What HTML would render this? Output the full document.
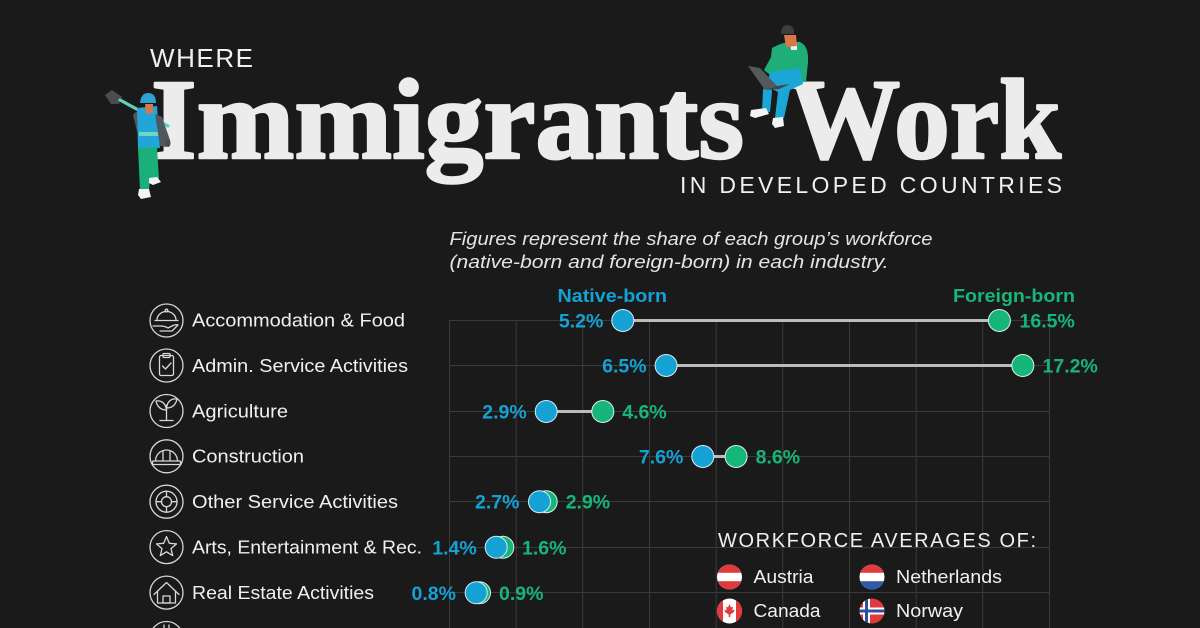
<!DOCTYPE html>
<html>
<head>
<meta charset="utf-8">
<style>
html,body{margin:0;padding:0;background:#1a1a1a;}
svg{display:block;}
text{font-family:"Liberation Sans",sans-serif;}
.serif{font-family:"Liberation Serif",serif;}
.cat{font-size:18px;fill:#f0f0f0;}
.nv{font-size:19.5px;font-weight:bold;fill:#14a2d4;}
.fv{font-size:19.5px;font-weight:bold;fill:#16b67b;}
.ic{fill:none;stroke:#d8d8d8;stroke-width:1.3;stroke-linecap:round;stroke-linejoin:round;}
.grid{stroke:#3a3a3a;stroke-width:1;}
</style>
</head>
<body>
<svg width="1200" height="628" viewBox="0 0 1200 628" xmlns="http://www.w3.org/2000/svg">
<defs>
  <clipPath id="cAu"><circle cx="729.5" cy="577" r="12.5"/></clipPath>
  <clipPath id="cNl"><circle cx="872" cy="577" r="12.5"/></clipPath>
  <clipPath id="cCa"><circle cx="729.5" cy="611" r="12.5"/></clipPath>
  <clipPath id="cNo"><circle cx="872" cy="611" r="12.5"/></clipPath>
</defs>
<rect width="1200" height="628" fill="#1a1a1a"/>

<!-- Header -->
<text x="150" y="67" font-size="26" fill="#f0f0f0" textLength="103" lengthAdjust="spacing">WHERE</text>
<text class="serif" x="151" y="158" font-size="114" font-weight="bold" fill="#ececec" stroke="#ececec" stroke-width="2.5" stroke-linejoin="round" textLength="593" lengthAdjust="spacingAndGlyphs">Immigrants</text>
<text class="serif" x="789" y="158" font-size="114" font-weight="bold" fill="#ececec" stroke="#ececec" stroke-width="2.5" stroke-linejoin="round" textLength="272" lengthAdjust="spacingAndGlyphs">Work</text>
<text x="680" y="193" font-size="23" fill="#f0f0f0" textLength="382" lengthAdjust="spacing">IN DEVELOPED COUNTRIES</text>

<!-- Left worker figure -->
<g>
  <polygon points="105,95 112,90 122,97 119,104 111,104" fill="#4a4d50"/>
  <line x1="120" y1="100" x2="168" y2="126" stroke="#5fd3b8" stroke-width="3.2" stroke-linecap="round"/>
  <path d="M133,115 Q137,110 142,112 L147,140 L140,143 Z" fill="#50585f"/>
  <path d="M137,108 L157,106 L160,148 L138,149 Z" fill="#22a5d8"/>
  <rect x="139" y="132" width="24" height="4" fill="#6fd6bf"/>
  <path d="M155,114 L162,117 L170,140 L166,147 L160,146 Z" fill="#50585f"/>
  <ellipse cx="168" cy="143" rx="2.5" ry="4" fill="#4a4d50"/>
  <path d="M145,104 L153,104 L153,113 L146,114 Z" fill="#d9774a"/>
  <path d="M140,103 Q141,93 148,93 Q156,93 156,103 Z" fill="#2ba3d3"/>
  <path d="M138,148 L157,147 L159,180 L150,180 L149,190 L140,190 Z" fill="#1bb07a"/>
  <path d="M139,189 L149,189 L151,197 L141,199 L138,195 Z" fill="#f4f4f4"/>
  <path d="M149,178 L157,177 L161,182 L153,185 L149,183 Z" fill="#f4f4f4"/>
</g>

<!-- Right figure sitting on W -->
<g>
  <path d="M772,48 Q785,40 800,42 Q809,46 808,62 L806,82 L774,82 L770,66 Z" fill="#1fae78"/>
  <path d="M775,50 L764,70 L770,75 L780,60 Z" fill="#1fae78"/>
  <path d="M790,43 L797,43 L797,50 L791,50 Z" fill="#f4f4f4"/>
  <path d="M784,35 L796,35 L797,46 L786,47 Z" fill="#d9774a"/>
  <path d="M781,34 Q781,25 788,25 Q795,26 794,34 Z" fill="#3d3d3d"/>
  <path d="M770,72 L800,68 L803,84 L790,90 L784,118 L775,118 L778,92 L770,88 Z" fill="#1ca6d6"/>
  <path d="M770,74 L763,90 L762,112 L770,112 L772,92 Z" fill="#1ca6d6"/>
  <polygon points="748,66 760,68 777,86 765,90" fill="#56595c"/>
  <polygon points="765,90 777,86 790,84 779,89" fill="#444"/>
  <path d="M751,110 L766,108 L769,114 L755,118 L750,116 Z" fill="#f4f4f4"/>
  <path d="M773,118 L783,117 L784,126 L775,128 L772,124 Z" fill="#f4f4f4"/>
</g>

<!-- Subtitle -->
<text x="449.5" y="245" font-size="18.5" font-style="italic" fill="#e4e4e4" textLength="483" lengthAdjust="spacingAndGlyphs">Figures represent the share of each group’s workforce</text>
<text x="449.5" y="268" font-size="18.5" font-style="italic" fill="#e4e4e4" textLength="439" lengthAdjust="spacingAndGlyphs">(native-born and foreign-born) in each industry.</text>

<!-- Series titles -->
<text x="557.5" y="302" font-size="18" font-weight="bold" fill="#14a2d4" textLength="109.5" lengthAdjust="spacingAndGlyphs">Native-born</text>
<text x="953" y="302" font-size="18" font-weight="bold" fill="#16b67b" textLength="122" lengthAdjust="spacingAndGlyphs">Foreign-born</text>

<!-- Grid -->
<g class="grid">
  <line x1="449.5" y1="320" x2="449.5" y2="628"/>
  <line x1="516.2" y1="320" x2="516.2" y2="628"/>
  <line x1="582.8" y1="320" x2="582.8" y2="628"/>
  <line x1="649.5" y1="320" x2="649.5" y2="628"/>
  <line x1="716.2" y1="320" x2="716.2" y2="628"/>
  <line x1="782.8" y1="320" x2="782.8" y2="628"/>
  <line x1="849.5" y1="320" x2="849.5" y2="628"/>
  <line x1="916.2" y1="320" x2="916.2" y2="628"/>
  <line x1="982.8" y1="320" x2="982.8" y2="628"/>
  <line x1="1049.5" y1="320" x2="1049.5" y2="628"/>
  <line x1="449.5" y1="320.5" x2="1049.5" y2="320.5"/>
  <line x1="449.5" y1="365.5" x2="1049.5" y2="365.5"/>
  <line x1="449.5" y1="411.5" x2="1049.5" y2="411.5"/>
  <line x1="449.5" y1="456.5" x2="1049.5" y2="456.5"/>
  <line x1="449.5" y1="501.5" x2="1049.5" y2="501.5"/>
  <line x1="449.5" y1="547.5" x2="1049.5" y2="547.5"/>
  <line x1="449.5" y1="592.5" x2="1049.5" y2="592.5"/>
</g>

<!-- Category icons -->
<g class="ic">
  <circle cx="166.5" cy="320.5" r="16.5"/>
  <circle cx="166.5" cy="365.5" r="16.5"/>
  <circle cx="166.5" cy="411" r="16.5"/>
  <circle cx="166.5" cy="456.3" r="16.5"/>
  <circle cx="166.5" cy="501.7" r="16.5"/>
  <circle cx="166.5" cy="547.1" r="16.5"/>
  <circle cx="166.5" cy="592.6" r="16.5"/>
  <circle cx="166.5" cy="638" r="16.5"/>
  <path d="M157,320 A9.5,8.5 0 0 1 176,320"/>
  <line x1="155" y1="320.5" x2="178" y2="320.5"/>
  <circle cx="166.5" cy="310.5" r="1.3"/>
  <path d="M153,326 L160,326 Q165,326 168,328 L172,326 Q176,324 178,325 L172,331 L160,331"/>
  <rect x="159.5" y="355.5" width="14" height="20" rx="1.5"/>
  <rect x="163" y="353.5" width="7" height="4" rx="1"/>
  <path d="M162.5,366 L165.5,369 L171,363"/>
  <line x1="166.5" y1="405" x2="166.5" y2="420"/>
  <line x1="160" y1="420.5" x2="173" y2="420.5"/>
  <path d="M166.5,410 Q158,410 156,401 Q165,400 166.5,410"/>
  <path d="M166.5,408 Q175,408 177,399 Q168,398 166.5,408"/>
  <path d="M155.5,461 A11,11 0 0 1 177.5,461"/>
  <rect x="152.5" y="461" width="28" height="3.5" rx="1"/>
  <line x1="163" y1="451" x2="163" y2="460"/>
  <line x1="170" y1="451" x2="170" y2="460"/>
  <circle cx="166.5" cy="501.7" r="10.5"/>
  <circle cx="166.5" cy="501.7" r="5"/>
  <line x1="166.5" y1="491.2" x2="166.5" y2="496.7"/>
  <line x1="166.5" y1="506.7" x2="166.5" y2="512.2"/>
  <line x1="156" y1="501.7" x2="161.5" y2="501.7"/>
  <line x1="171.5" y1="501.7" x2="177" y2="501.7"/>
  <polygon points="166.5,536.6 169.3,543.3 176.5,543.9 171,548.6 172.7,555.6 166.5,551.8 160.3,555.6 162,548.6 156.5,543.9 163.7,543.3"/>
  <polyline points="154,594.5 166.5,582.5 179,594.5"/>
  <polyline points="157.5,591.5 157.5,603 175.5,603 175.5,591.5"/>
  <rect x="163" y="596" width="7" height="7"/>
  <line x1="164" y1="625" x2="164" y2="628"/>
  <line x1="169" y1="625" x2="169" y2="628"/>
</g>

<!-- Category labels -->
<text class="cat" x="192" y="326.5" textLength="213" lengthAdjust="spacingAndGlyphs">Accommodation &amp; Food</text>
<text class="cat" x="192" y="371.8" textLength="216" lengthAdjust="spacingAndGlyphs">Admin. Service Activities</text>
<text class="cat" x="192" y="417.3" textLength="96" lengthAdjust="spacingAndGlyphs">Agriculture</text>
<text class="cat" x="192" y="462.7" textLength="112" lengthAdjust="spacingAndGlyphs">Construction</text>
<text class="cat" x="192" y="508.1" textLength="206" lengthAdjust="spacingAndGlyphs">Other Service Activities</text>
<text class="cat" x="192" y="553.5" textLength="230" lengthAdjust="spacingAndGlyphs">Arts, Entertainment &amp; Rec.</text>
<text class="cat" x="192" y="599" textLength="182" lengthAdjust="spacingAndGlyphs">Real Estate Activities</text>

<!-- Connectors -->
<g stroke="#bcbcbc" stroke-width="3">
  <line x1="622.8" y1="320.5" x2="999.4" y2="320.5"/>
  <line x1="666.1" y1="365.5" x2="1022.8" y2="365.5"/>
  <line x1="546.2" y1="411.5" x2="602.8" y2="411.5"/>
  <line x1="702.8" y1="456.5" x2="736.1" y2="456.5"/>
</g>

<!-- Foreign-born dots -->
<g fill="#16b67b" stroke="#d9efe6" stroke-width="1">
  <circle cx="999.4" cy="320.5" r="11"/>
  <circle cx="1022.8" cy="365.5" r="11"/>
  <circle cx="602.8" cy="411.5" r="11"/>
  <circle cx="736.1" cy="456.5" r="11"/>
  <circle cx="546.2" cy="501.7" r="11"/>
  <circle cx="502.8" cy="547.3" r="11"/>
  <circle cx="479.5" cy="592.8" r="11"/>
</g>
<!-- Native-born dots -->
<g fill="#14a2d4" stroke="#d6ebf3" stroke-width="1">
  <circle cx="622.8" cy="320.5" r="11"/>
  <circle cx="666.1" cy="365.5" r="11"/>
  <circle cx="546.2" cy="411.5" r="11"/>
  <circle cx="702.8" cy="456.5" r="11"/>
  <circle cx="539.5" cy="501.7" r="11"/>
  <circle cx="496.2" cy="547.3" r="11"/>
  <circle cx="476.2" cy="592.8" r="11"/>
</g>

<!-- Value labels -->
<g class="nv" text-anchor="end">
  <text x="603.3" y="327.5">5.2%</text>
  <text x="646.6" y="372.5">6.5%</text>
  <text x="526.7" y="418.5">2.9%</text>
  <text x="683.3" y="463.5">7.6%</text>
  <text x="519.5" y="508.7">2.7%</text>
  <text x="476.7" y="554.3">1.4%</text>
  <text x="456" y="599.8">0.8%</text>
</g>
<g class="fv">
  <text x="1019.5" y="327.5">16.5%</text>
  <text x="1042.5" y="372.5">17.2%</text>
  <text x="622.3" y="418.5">4.6%</text>
  <text x="755.6" y="463.5">8.6%</text>
  <text x="565.7" y="508.7">2.9%</text>
  <text x="522" y="554.3">1.6%</text>
  <text x="499" y="599.8">0.9%</text>
</g>

<!-- Legend -->
<text x="718" y="547" font-size="20" fill="#efefef" textLength="318" lengthAdjust="spacing">WORKFORCE AVERAGES OF:</text>

<g clip-path="url(#cAu)">
  <rect x="716" y="564" width="28" height="26" fill="#ffffff"/>
  <rect x="716" y="564" width="28" height="8.8" fill="#e03a3e"/>
  <rect x="716" y="581.2" width="28" height="9" fill="#e03a3e"/>
</g>
<g clip-path="url(#cNl)">
  <rect x="858" y="564" width="28" height="26" fill="#ffffff"/>
  <rect x="858" y="564" width="28" height="8.8" fill="#e03a3e"/>
  <rect x="858" y="581.2" width="28" height="9" fill="#2f5ba8"/>
</g>
<g clip-path="url(#cCa)">
  <rect x="716" y="598" width="28" height="26" fill="#ffffff"/>
  <rect x="716" y="598" width="7" height="26" fill="#e03a3e"/>
  <rect x="736" y="598" width="8" height="26" fill="#e03a3e"/>
  <path d="M729.5,604 L731,607.5 L733,606.5 L732.3,610.5 L734.5,609.5 L734,612 L730.3,614.5 L730.3,617 L728.7,617 L728.7,614.5 L725,612 L724.5,609.5 L726.7,610.5 L726,606.5 L728,607.5 Z" fill="#e03a3e"/>
</g>
<g clip-path="url(#cNo)">
  <rect x="858" y="598" width="28" height="26" fill="#e03a3e"/>
  <rect x="863" y="598" width="7" height="26" fill="#ffffff"/>
  <rect x="858" y="607.5" width="28" height="7" fill="#ffffff"/>
  <rect x="865" y="598" width="3" height="26" fill="#2f4f9c"/>
  <rect x="858" y="609.5" width="28" height="3" fill="#2f4f9c"/>
</g>

<text x="753.5" y="583" font-size="18" fill="#f0f0f0" textLength="60" lengthAdjust="spacingAndGlyphs">Austria</text>
<text x="896" y="583" font-size="18" fill="#f0f0f0" textLength="106" lengthAdjust="spacingAndGlyphs">Netherlands</text>
<text x="753.5" y="617" font-size="18" fill="#f0f0f0" textLength="67" lengthAdjust="spacingAndGlyphs">Canada</text>
<text x="896" y="617" font-size="18" fill="#f0f0f0" textLength="67" lengthAdjust="spacingAndGlyphs">Norway</text>
</svg>
</body>
</html>
